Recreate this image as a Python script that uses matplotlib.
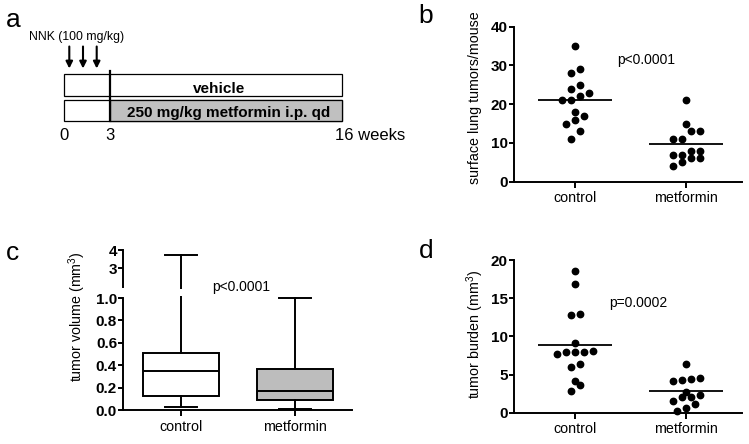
import matplotlib
matplotlib.use("Agg")
import matplotlib.pyplot as plt
from matplotlib.patches import Rectangle

plt.rcParams['font.family'] = ['Liberation Sans', 'DejaVu Sans']
plt.rcParams['mathtext.fontset'] = 'custom'
plt.rcParams['mathtext.rm'] = 'Liberation Sans'
plt.rcParams['mathtext.it'] = 'Liberation Sans:italic'
plt.rcParams['mathtext.bf'] = 'Liberation Sans:bold'

# ---- data ----
groups = ["control", "metformin"]

# a: treatment schedule
week_labels = ["0", "3", "16 weeks"]
arm_labels = ["vehicle", "250 mg/kg metformin i.p. qd"]
nnk_label = "NNK (100 mg/kg)"
n_nnk_doses = 3

# b: surface lung tumors per mouse
tumors_control = [35, 29, 28, 25, 24, 23, 22, 21, 21, 18, 17, 16, 15, 13, 11]
tumors_metformin = [21, 15, 13, 13, 11, 11, 8, 8, 7, 7, 6, 6, 5, 4]
p_tumors = "p<0.0001"

# c: tumor volume (mm3), box and whiskers
vol_whislo = [0.03, 0.006]
vol_q1 = [0.128, 0.089]
vol_med = [0.348, 0.167]
vol_q3 = [0.512, 0.366]
vol_whishi = [3.74, 1.0]
p_volume = "p<0.0001"

# d: tumor burden (mm3)
burden_control = [18.5, 16.9, 12.9, 12.8, 9.1, 8.1, 8.0, 7.9, 7.9, 7.7,
                  6.4, 6.0, 4.2, 3.65, 2.8]
burden_metformin = [6.44, 4.57, 4.43, 4.3, 4.1, 2.66, 2.3, 2.0, 2.0, 1.5,
                    1.1, 0.6, 0.26]
p_burden = "p=0.0002"

# ---- figure ----
W, H = 749, 444
fig = plt.figure(figsize=(W / 100, H / 100), dpi=100)

LW = 1.4
TICK_FS = 11
XLAB_FS = 10.3
YLAB_FS = 10.3


def px_rect(x0, y_top, x1, y_bot):
    return [x0 / W, 1 - y_bot / H, (x1 - x0) / W, (y_bot - y_top) / H]


def style_axes(ax, yticks, ylabels):
    for s in ["top", "right"]:
        ax.spines[s].set_visible(False)
    for s in ["left", "bottom"]:
        ax.spines[s].set_linewidth(LW)
    ax.set_yticks(yticks)
    ax.set_yticklabels(ylabels, fontweight="bold", fontsize=TICK_FS)
    ax.tick_params(axis="y", length=3.5, width=LW, pad=1)
    ax.tick_params(axis="x", length=4, width=LW, pad=3, labelsize=XLAB_FS)


def swarm(ax, values, x0, row_px=8.0, gap_px=9.0):
    # bin close values into rows and spread each row around the centre
    pos = ax.get_position()
    ya, yb = ax.get_ylim()
    xa, xb = ax.get_xlim()
    py = pos.height * H / (yb - ya)
    px = pos.width * W / (xb - xa)
    rows = []
    for v in sorted(values):
        if rows and (v - rows[-1][0]) * py <= row_px:
            rows[-1].append(v)
        else:
            rows.append([v])
    xs, ys = [], []
    for row in rows:
        n = len(row)
        for i, v in enumerate(row):
            xs.append(x0 + (i - (n - 1) / 2) * gap_px / px)
            ys.append(v)
    return xs, ys


def dot_panel(rect, ctrl, metf, ylim, yticks, ylabel, ptext, ppos, ylab_pos):
    ax = fig.add_axes(rect)
    ax.set_xlim(0.45, 2.5)
    ax.set_ylim(*ylim)
    ax.set_xticks([1, 2])
    ax.set_xticklabels(groups)
    style_axes(ax, yticks, [str(t) for t in yticks])
    for x0, vals in zip([1, 2], [ctrl, metf]):
        xs, ys = swarm(ax, vals, x0)
        ax.plot(xs, ys, "o", color="black", ms=4.6, clip_on=False, zorder=3)
        m = sum(vals) / len(vals)
        ax.plot([x0 - 0.333, x0 + 0.333], [m, m], color="black", lw=1.3,
                solid_capstyle="butt", zorder=2)
    ax.text(ppos[0], ppos[1], ptext, transform=ax.transAxes, ha="center",
            va="center", fontsize=10)
    fig.text(ylab_pos[0] / W, 1 - ylab_pos[1] / H, ylabel, rotation=90,
             ha="center", va="center", fontsize=YLAB_FS)
    return ax


# b
dot_panel(px_rect(514, 26.7, 742, 181.7), tumors_control, tumors_metformin,
          (0, 40), [0, 10, 20, 30, 40], "surface lung tumors/mouse",
          p_tumors, (0.579, 0.785), (475, 98))

# d
dot_panel(px_rect(514, 260, 742, 412.7), burden_control, burden_metformin,
          (0, 20), [0, 5, 10, 15, 20], "tumor burden (mm$^3$)",
          p_burden, (0.544, 0.718), (475, 334))

# c: broken-axis box plot
stats = [dict(whislo=vol_whislo[i], q1=vol_q1[i], med=vol_med[i],
              q3=vol_q3[i], whishi=vol_whishi[i], fliers=[], label=groups[i])
         for i in range(len(groups))]
box_colors = ["white", "#bdbdbd"]

ax_lo = fig.add_axes(px_rect(123.3, 298, 351.7, 410))
ax_hi = fig.add_axes(px_rect(123.3, 250, 351.7, 286.7))
for ax, ylim in [(ax_lo, (0, 1.0)), (ax_hi, (2, 4))]:
    ax.set_xlim(0.49, 2.5)
    ax.set_ylim(*ylim)
    res = ax.bxp(stats, positions=[1, 2], widths=0.67, capwidths=0.28,
                 patch_artist=True, showfliers=False,
                 boxprops=dict(linewidth=LW, edgecolor="black"),
                 whiskerprops=dict(linewidth=LW, color="black"),
                 capprops=dict(linewidth=LW, color="black"),
                 medianprops=dict(linewidth=LW, color="black"))
    for patch, c in zip(res["boxes"], box_colors):
        patch.set_facecolor(c)
    clip = Rectangle((-0.05, -0.05), 1.1, 1.07, transform=ax.transAxes,
                     fill=False, visible=False)
    ax.add_patch(clip)
    for key in ["boxes", "whiskers", "caps", "medians"]:
        for art in res[key]:
            art.set_clip_path(clip)

lo_ticks = [0, 0.2, 0.4, 0.6, 0.8, 1.0]
ax_lo.set_xticks([1, 2])
ax_lo.set_xticklabels(groups)
style_axes(ax_lo, lo_ticks, ["%.1f" % t for t in lo_ticks])

style_axes(ax_hi, [3, 4], ["3", "4"])
ax_hi.spines["bottom"].set_visible(False)
ax_hi.set_xticks([])
ax_hi.patch.set_alpha(0)

fig.text(241 / W, 1 - 287 / H, p_volume, ha="center", va="center", fontsize=10)
fig.text(77 / W, 1 - 317 / H, "tumor volume (mm$^3$)", rotation=90,
         ha="center", va="center", fontsize=YLAB_FS)

# a: schematic drawn in pixel space
ax_a = fig.add_axes([0, 0, 1, 1], zorder=-1)
ax_a.set_xlim(0, W)
ax_a.set_ylim(H, 0)
ax_a.axis("off")

bx0, bx1, split = 64.3, 342.3, 110
rows_y = [(74.3, 95.7), (100, 121.3)]
for (yt, yb), label, fill in zip(rows_y, arm_labels, [False, True]):
    ax_a.add_patch(Rectangle((bx0, yt), bx1 - bx0, yb - yt, fill=False,
                             edgecolor="black", lw=0.9))
    if fill:
        ax_a.add_patch(Rectangle((split, yt), bx1 - split, yb - yt,
                                 facecolor="#c0c0c0", edgecolor="black",
                                 lw=0.9))
ax_a.plot([split, split], [71.5, 121.3], color="black", lw=1.6)
ax_a.text(219, 92.7, arm_labels[0], ha="center", va="baseline",
          fontsize=11, fontweight="bold")
ax_a.text(229, 117.3, arm_labels[1], ha="center", va="baseline",
          fontsize=11, fontweight="bold")

for i in range(n_nnk_doses):
    x = 69.3 + i * 13.7
    ax_a.annotate("", xy=(x, 68.5), xytext=(x, 46.5),
                  arrowprops=dict(arrowstyle="-|>", lw=1.5, color="black",
                                  mutation_scale=10, shrinkA=0, shrinkB=0))
ax_a.text(29, 40, nnk_label, ha="left", va="baseline", fontsize=8.8)

ax_a.text(bx0, 140, week_labels[0], ha="center", va="baseline", fontsize=12)
ax_a.text(split, 140, week_labels[1], ha="center", va="baseline", fontsize=12)
ax_a.text(335, 140, week_labels[2], ha="left", va="baseline", fontsize=12)

# panel letters
for letter, (x, y) in zip("abcd", [(13, 26.7), (426, 23), (12.5, 260),
                                    (426, 258.3)]):
    fig.text(x / W, 1 - y / H, letter, ha="center", va="baseline",
             fontsize=19)

fig.savefig("out.png", dpi=100)
